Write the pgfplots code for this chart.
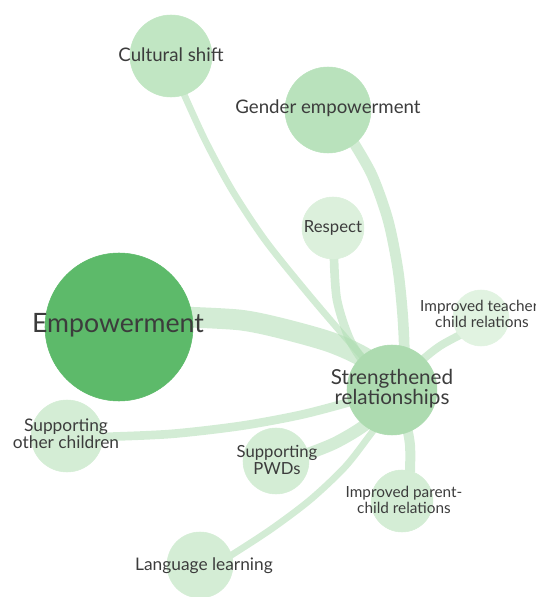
\documentclass[border=0pt]{standalone}
\usepackage{pgfplots}
\pgfplotsset{compat=1.18}
\usepackage{fontspec}
\setmainfont{Lato}
\definecolor{edge}{RGB}{175,221,178}
\definecolor{cEmp}{RGB}{93,186,106}
\definecolor{cStr}{RGB}{173,219,176}
\definecolor{cGen}{RGB}{185,226,188}
\definecolor{cCul}{RGB}{193,230,195}
\definecolor{cRes}{RGB}{220,240,220}
\definecolor{cTea}{RGB}{225,243,225}
\definecolor{cOth}{RGB}{212,237,213}
\definecolor{txt}{RGB}{60,60,60}
\begin{document}
\begin{tikzpicture}
\begin{axis}[scale only axis, width=402pt, height=447.75pt, set layers,
  xmin=0, xmax=536, ymin=0, ymax=597, y dir=reverse, hide axis, clip=false,
  ed/.style={color=edge, opacity=0.55, smooth, no marks},
  nd/.style={only marks, mark=*, mark size=#1}]
% edges
\addplot[ed, line width=15.5pt] coordinates {(185,317) (240,320) (280,328) (330,342) (365,358) (392,380)};
\addplot[ed, line width=5pt] coordinates {(183,92) (205,140) (232,190) (265,240) (305,290) (345,337) (392,390)};
\addplot[ed, line width=8pt] coordinates {(352,140) (372,175) (388,220) (398,270) (403,320) (404,360) (398,390)};
\addplot[ed, line width=6.5pt] coordinates {(334,258) (337,300) (350,340) (370,370) (392,390)};
\addplot[ed, line width=6pt] coordinates {(462,334) (440,346) (420,362) (392,390)};
\addplot[ed, line width=6.5pt] coordinates {(100,437) (170,434) (240,426) (300,415) (350,402) (392,390)};
\addplot[ed, line width=9pt] coordinates {(305,455) (335,443) (365,425) (392,400)};
\addplot[ed, line width=5pt] coordinates {(230,556) (270,530) (310,500) (345,467) (370,435) (392,405)};
\addplot[ed, line width=7.5pt] coordinates {(410,472) (410,445) (405,420) (395,395)};
% nodes
\addplot[nd=55.5pt, color=cEmp] coordinates {(119,327)};
\addplot[nd=33.75pt, color=cStr] coordinates {(392,390)};
\addplot[nd=32.25pt, color=cGen] coordinates {(328,110)};
\addplot[nd=30.75pt, color=cCul] coordinates {(171,56)};
\addplot[nd=23.25pt, color=cRes] coordinates {(333,228)};
\addplot[nd=21pt, color=cTea] coordinates {(481,318)};
\addplot[nd=27pt, color=cOth] coordinates {(67,436)};
\addplot[nd=24.75pt, color=cOth] coordinates {(276,461)};
\addplot[nd=23.25pt, color=cOth] coordinates {(402,501)};
\addplot[nd=24.75pt, color=cOth] coordinates {(200,565)};
% labels
\begin{pgfonlayer}{axis foreground}
\node[txt, font=\fontsize{14}{16}\selectfont] at (axis cs:171,55) {Cultural shift};
\node[txt, font=\fontsize{14}{16}\selectfont] at (axis cs:328,108) {Gender empowerment};
\node[txt, font=\fontsize{12.5}{14}\selectfont] at (axis cs:333,228) {Respect};
\node[txt, font=\fontsize{20}{22}\selectfont] at (axis cs:118,325) {Empowerment};
\node[txt, font=\fontsize{11.5}{12.5}\selectfont, align=center] at (axis cs:482,314) {Improved teacher-\\child relations};
\node[txt, font=\fontsize{15.5}{15}\selectfont, align=center] at (axis cs:392,389) {Strengthened\\relationships};
\node[txt, font=\fontsize{13}{13}\selectfont, align=center] at (axis cs:66,434) {Supporting\\other children};
\node[txt, font=\fontsize{12.5}{13}\selectfont, align=center] at (axis cs:277,460) {Supporting\\PWDs};
\node[txt, font=\fontsize{11.5}{12.5}\selectfont, align=center] at (axis cs:404,500) {Improved parent-\\child relations};
\node[txt, font=\fontsize{13}{14}\selectfont] at (axis cs:204,566) {Language learning};
\end{pgfonlayer}
\end{axis}
\pgfresetboundingbox
\useasboundingbox (current axis.south west) rectangle (current axis.north east);
\end{tikzpicture}
\end{document}
